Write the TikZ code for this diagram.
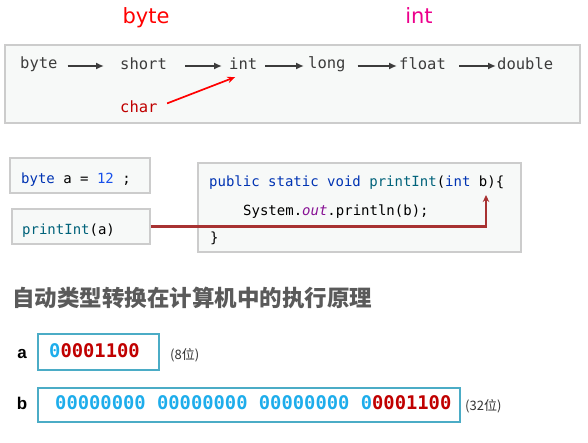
\documentclass[tikz,border=0pt]{standalone}
\usepackage{fontspec}
\usepackage{tikz}
\usetikzlibrary{arrows.meta,positioning,calc,shadows}
\setmainfont{DejaVu Sans}
\newfontfamily\codefont{DejaVu Sans Mono}
\newfontfamily\cjkfont{Noto Sans CJK SC}
\newfontfamily\labelfont{Liberation Sans}
\definecolor{KeyBlue}{HTML}{0033B3}
\definecolor{NumBlue}{HTML}{1750EB}
\definecolor{MethodTeal}{HTML}{00627A}
\definecolor{FieldPurple}{HTML}{871094}
\definecolor{RowGray}{HTML}{3C3C3C}
\definecolor{CharRed}{HTML}{C00000}
\definecolor{LinkRed}{HTML}{A83232}
\definecolor{BitCyan}{HTML}{1EADEB}
\definecolor{BitRed}{HTML}{C00000}
\definecolor{BoxTeal}{HTML}{4BACC6}
\definecolor{PanelFill}{HTML}{F7F9F8}
\definecolor{HeadGray}{HTML}{5A5A5A}

\begin{document}
\begin{tikzpicture}[
    x=1pt, y=-1pt,
    panel/.style={
        draw=gray!40,
        line width=1.2pt,
        fill=PanelFill,
        inner sep=0pt,
        drop shadow={shadow xshift=0.8pt,shadow yshift=-0.8pt,opacity=0.3},
    },
    typename/.style={
        anchor=west,
        inner sep=0pt,
        font=\codefont\fontsize{15.5}{18}\selectfont,
        text=RowGray,
    },
    code/.style={
        anchor=west,
        inner sep=0pt,
        font=\codefont\fontsize{14}{16}\selectfont,
    },
    flow/.style={
        -{Latex[length=8pt,width=7pt]},
        line width=2pt,
        color=RowGray,
    },
    bitbox/.style={
        draw=BoxTeal,
        line width=2pt,
        inner sep=0pt,
    },
    bits/.style={
        anchor=west,
        inner sep=0pt,
        font=\codefont\bfseries\fontsize{18.8}{20}\selectfont,
    },
    sizenote/.style={
        anchor=west,
        inner sep=0pt,
        font=\cjkfont\fontsize{13}{15}\selectfont,
        text=black!80,
    },
]
\useasboundingbox (0,0) rectangle (588,442);

% type names above the row
\node[font=\fontsize{21}{24}\selectfont,text=red] (byteTop) at (146,18) {byte};
\node[font=\fontsize{21}{24}\selectfont,text=magenta] (intTop) at (419,16) {int};

% widening order
\node[panel,minimum width=575,minimum height=78] (rowPanel) at (292.5,84) {};
\node[typename] (byteT) at (20,64) {byte};
\node[typename] (shortT) at (120,64) {short};
\node[typename] (intT) at (229,64) {int};
\node[typename] (longT) at (308,64) {long};
\node[typename] (floatT) at (399,64) {float};
\node[typename] (doubleT) at (497,64) {double};
\node[typename,text=CharRed] (charT) at (120,107) {char};

\foreach \a/\b/\s/\e in {byteT/shortT/10/16,shortT/intT/18/7,intT/longT/8/4,longT/floatT/12/2,floatT/doubleT/13/1}
    \draw[flow,shorten <=\s pt,shorten >=\e pt] ([yshift=-2pt]\a.east) -- ([yshift=-2pt]\b.west);

\draw[-{Stealth[length=8pt,width=6.5pt]},line width=1.7pt,red,shorten <=10pt] (charT.east) -- ([xshift=-8pt,yshift=-7pt]intT.south);

% call site and method
\node[panel,minimum width=140,minimum height=35] (declBox) at (80,175.5) {};
\node[code] (declT) at (21,180) {%
    \color{KeyBlue}byte\color{black}~a~=~\color{NumBlue}12\color{black}~;};
\node[panel,minimum width=138,minimum height=35] (callBox) at (81,226.5) {};
\node[code] (callT) at (22,231) {%
    \color{MethodTeal}printInt\color{black}(a)};

\node[panel,minimum width=323,minimum height=89] (methodBox) at (359.5,207.5) {};
\node[code] (sigT) at (209,183) {%
    \color{KeyBlue}public~static~void~\color{MethodTeal}printInt\color{black}(\color{KeyBlue}int~\color{black}b)\{};
\node[code] (bodyT) at (243,212) {%
    System.\textcolor{FieldPurple}{\itshape out}.println(b);};
\node[code] (closeT) at (210,238) {\}};
\coordinate (bArg) at (486,195);

\draw[-{Stealth[length=7pt,width=6.5pt]},line width=2.4pt,LinkRed] (callBox.east) -| (bArg);

% widening in memory
\node[anchor=west,inner sep=0pt,font=\cjkfont\bfseries\fontsize{22.5}{26}\selectfont,text=HeadGray] (headT) at (12,298) {自动类型转换在计算机中的执行原理};

\node[font=\labelfont\bfseries\fontsize{17}{20}\selectfont] (aLbl) at (22,354) {a};
\node[bitbox,minimum width=121,minimum height=36] (aBox) at (98.5,352) {};
\node[bits] (aBits) at (49,351) {\color{BitCyan}0\color{BitRed}0001100};
\node[sizenote] (aSize) at (170,355) {(8位)};

\node[font=\labelfont\bfseries\fontsize{17}{20}\selectfont] (bLbl) at (22,403) {b};
\node[bitbox,minimum width=422,minimum height=34] (bBox) at (249,405) {};
\node[bits] (bBits) at (55,403) {\color{BitCyan}00000000~00000000~00000000~0\color{BitRed}0001100};
\node[sizenote] (bSize) at (465,406) {(32位)};
\end{tikzpicture}
\end{document}
